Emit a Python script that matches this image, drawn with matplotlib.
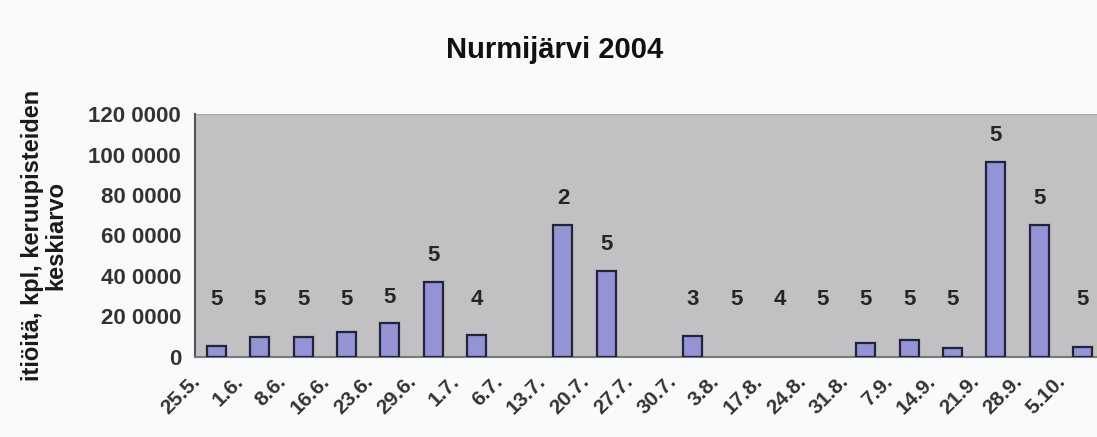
import matplotlib
matplotlib.use("Agg")
import matplotlib.pyplot as plt
import matplotlib.transforms as mtransforms
import numpy as np

plt.rcParams["font.family"] = ["Liberation Sans", "DejaVu Sans"]
plt.rcParams["font.weight"] = "bold"

# sampling dates
dates = ["25.5.", "1.6.", "8.6.", "16.6.", "23.6.", "29.6.", "1.7.", "6.7.",
         "13.7.", "20.7.", "27.7.", "30.7.", "3.8.", "17.8.", "24.8.", "31.8.",
         "7.9.", "14.9.", "21.9.", "28.9.", "5.10."]
# mean spore count over the collection points
spores = [5600, 9700, 9700, 12500, 16600, 37200, 10900, 0,
          65200, 42500, 0, 10400, 0, 0, 0, 6800,
          8400, 4300, 96400, 65200, 4800]
# number of collection points per date (None = no label)
n_points = [5, 5, 5, 5, 5, 5, 4, None,
            2, 5, None, 3, 5, 4, 5, 5,
            5, 5, 5, 5, 5]

yticks = [0, 20000, 40000, 60000, 80000, 100000, 120000]
ytick_labels = ["0", "20 0000", "40 0000", "60 0000", "80 0000", "100 0000", "120 0000"]

fig = plt.figure(figsize=(10.97, 4.37), dpi=100)
fig.patch.set_facecolor("#f9fafb")
ax = fig.add_axes([0.1778, 0.1831, 0.8286, 0.556])
ax.set_facecolor("#c1c1c3")

x = np.arange(len(dates))
heights = np.array(spores, dtype=float)
nonzero = heights > 0
ax.bar(x[nonzero], heights[nonzero], width=0.44, color="#9393d6",
       edgecolor="#23233a", linewidth=1.6, zorder=3)

for xi, v, n in zip(x, spores, n_points):
    if n is None:
        continue
    ax.text(xi, max(v + 13000, 28500), str(n), ha="center", va="center",
            fontsize=16, fontweight="bold", color="#262626", zorder=4)

ax.set_xlim(-0.5, 20.5)
ax.set_ylim(0, 120000)
ax.tick_params(axis="y", length=0, pad=10)
ax.tick_params(axis="x", length=0, pad=6)
ax.set_yticks(yticks)
ax.set_yticklabels(ytick_labels, fontsize=16, color="#333333")
ax.set_xticks(x)
ax.set_xticklabels(dates, fontsize=15, color="#333333", rotation=45,
                   ha="right", va="center", rotation_mode="anchor")
# rotated date labels sit down and to the left of their bar
shift = mtransforms.ScaledTranslation(-0.20, -0.13, fig.dpi_scale_trans)
for lbl in ax.get_xticklabels():
    lbl.set_transform(lbl.get_transform() + shift)

for side in ("top", "right"):
    ax.spines[side].set_visible(False)
ax.spines["left"].set_color("#555555")
ax.spines["left"].set_linewidth(1.5)
ax.spines["bottom"].set_color("#7a7a7a")
ax.spines["bottom"].set_linewidth(1.5)
ax.axhline(120000, color="#a8a8a8", linewidth=1.5, zorder=2)

ax.set_ylabel("itiöitä, kpl, keruupisteiden\nkeskiarvo", fontsize=17,
              fontweight="bold", color="#1a1a1a", linespacing=1.05)
ax.yaxis.set_label_coords(-0.14, 0.50)

fig.text(0.506, 0.885, "Nurmijärvi 2004", ha="center", va="center",
         fontsize=21, fontweight="bold", color="#111111")

fig.savefig("out.png", dpi=100, facecolor=fig.get_facecolor())
